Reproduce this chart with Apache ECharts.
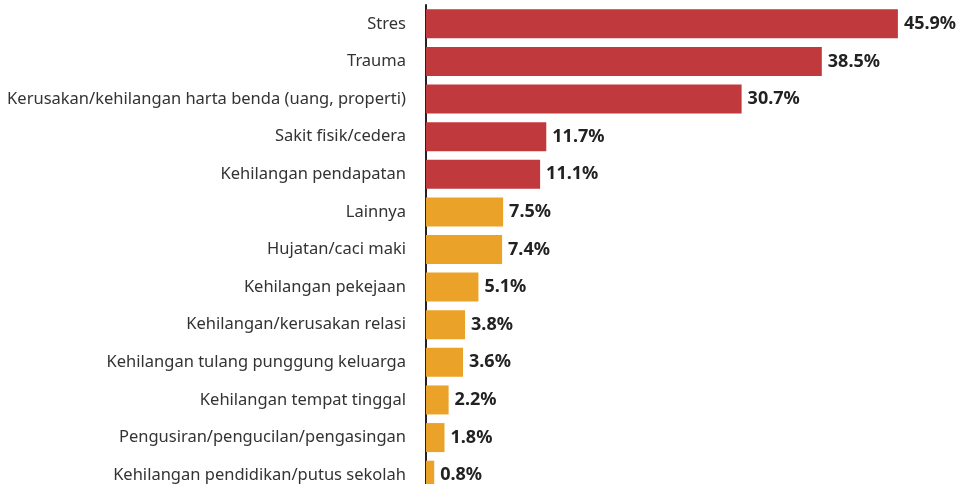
<!DOCTYPE html>
<html>
<head>
<meta charset="utf-8">
<script src="https://cdn.jsdelivr.net/npm/echarts@6/dist/echarts.min.js"></script>
<style>
  html, body { margin: 0; padding: 0; background: #fff; }
  #main { width: 964px; height: 484px; }
</style>
</head>
<body>
<div id="main"></div>
<script type="text/javascript">
// kategori dampak (urut dari atas)
var categories = [
  'Stres',
  'Trauma',
  'Kerusakan/kehilangan harta benda (uang, properti)',
  'Sakit fisik/cedera',
  'Kehilangan pendapatan',
  'Lainnya',
  'Hujatan/caci maki',
  'Kehilangan pekejaan',
  'Kehilangan/kerusakan relasi',
  'Kehilangan tulang punggung keluarga',
  'Kehilangan tempat tinggal',
  'Pengusiran/pengucilan/pengasingan',
  'Kehilangan pendidikan/putus sekolah'
];
// persentase
var values = [45.9, 38.5, 30.7, 11.7, 11.1, 7.5, 7.4, 5.1, 3.8, 3.6, 2.2, 1.8, 0.8];
// jumlah kategori teratas yang diberi warna merah
var topCount = 5;

var red = '#c0393c';
var orange = '#eba228';

var chart = echarts.init(document.getElementById('main'));
chart.setOption({
  animation: false,
  textStyle: { fontFamily: '"Noto Sans", sans-serif' },
  grid: { left: 426, top: 5, width: 534.6, height: 489, containLabel: false, outerBoundsMode: 'none' },
  xAxis: {
    type: 'value',
    min: 0,
    max: 52,
    show: false
  },
  yAxis: {
    type: 'category',
    inverse: true,
    data: categories,
    axisLine: { show: true, lineStyle: { color: '#222', width: 2 } },
    axisTick: { show: false },
    axisLabel: { color: '#333', fontSize: 16.5, margin: 20 }
  },
  series: [{
    type: 'bar',
    barWidth: 29,
    data: values.map(function (v, i) {
      return { value: v, itemStyle: { color: i < topCount ? red : orange } };
    }),
    label: {
      show: true,
      position: 'right',
      distance: 6,
      color: '#222',
      fontWeight: 'bold',
      fontSize: 18,
      formatter: function (p) { return p.value.toFixed(1) + '%'; }
    }
  }]
});
</script>
</body>
</html>
